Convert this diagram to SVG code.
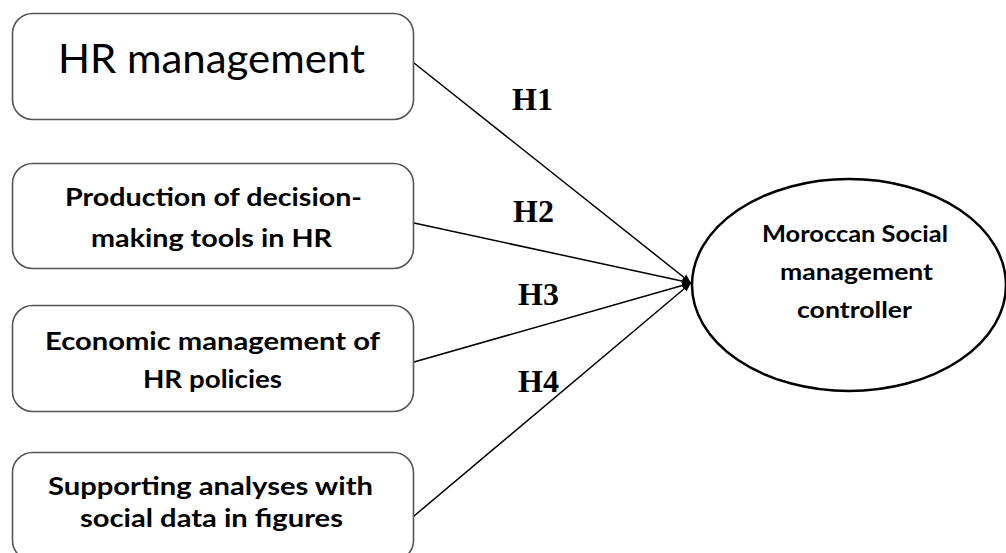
<svg xmlns="http://www.w3.org/2000/svg" width="1006" height="553" viewBox="0 0 1006 553">
<style>
.box{fill:#fff;stroke:#555;stroke-width:1.6}
.t{font-family:Lato,"Open Sans",sans-serif;font-weight:bold;font-size:24px;fill:#000}
.e{font-family:Lato,"Open Sans",sans-serif;font-weight:bold;font-size:22px;fill:#000}
.big{font-family:Lato,"Open Sans",sans-serif;font-size:40px;fill:#000}
.h{font-family:"Liberation Serif","Times New Roman",serif;font-weight:bold;font-size:32px;fill:#000}
.c{stroke:#000;stroke-width:1.5;fill:none;marker-end:url(#arr)}
</style>
<defs>
<marker id="arr" viewBox="0 0 10 10" refX="10" refY="5" markerWidth="9" markerHeight="9" orient="auto" markerUnits="userSpaceOnUse">
<path d="M0,1 L10,5 L0,9 z" fill="#000"/>
</marker>
</defs>
<rect width="1006" height="553" fill="#fff"/>
<g id="connectors">
<line class="c" x1="414" y1="63" x2="691" y2="283"/>
<line class="c" x1="414" y1="223" x2="691" y2="283"/>
<line class="c" x1="414" y1="362" x2="691" y2="283"/>
<line class="c" x1="414" y1="516" x2="691" y2="283"/>
<text class="h" x="512" y="110">H1</text>
<text class="h" x="513" y="222">H2</text>
<text class="h" x="518" y="305">H3</text>
<text class="h" x="518" y="392">H4</text>
</g>
<g id="n1">
<rect class="box" x="12.5" y="13.5" width="401" height="106" rx="20"/>
<text class="big" x="58" y="73" textLength="307" lengthAdjust="spacingAndGlyphs">HR management</text>
</g>
<g id="n2">
<rect class="box" x="12.5" y="163.5" width="401" height="105" rx="20"/>
<text class="t" x="65" y="206" textLength="297" lengthAdjust="spacingAndGlyphs">Production of decision-</text>
<text class="t" x="91" y="247" textLength="241" lengthAdjust="spacingAndGlyphs">making tools in HR</text>
</g>
<g id="n3">
<rect class="box" x="12.5" y="305.5" width="401" height="106" rx="20"/>
<text class="t" x="45" y="350" textLength="335" lengthAdjust="spacingAndGlyphs">Economic management of</text>
<text class="t" x="143" y="388" textLength="139" lengthAdjust="spacingAndGlyphs">HR policies</text>
</g>
<g id="n4">
<rect class="box" x="12.5" y="452.5" width="401" height="108" rx="20"/>
<text class="t" x="48" y="495" textLength="325" lengthAdjust="spacingAndGlyphs">Supporting analyses with</text>
<text class="t" x="80" y="527" textLength="263" lengthAdjust="spacingAndGlyphs">social data in figures</text>
</g>
<g id="n5">
<ellipse cx="849" cy="285" rx="157" ry="106" fill="#fff" stroke="#000" stroke-width="2.5"/>
<text class="e" x="762" y="242" textLength="186" lengthAdjust="spacingAndGlyphs">Moroccan Social</text>
<text class="e" x="780" y="280" textLength="153" lengthAdjust="spacingAndGlyphs">management</text>
<text class="e" x="797" y="318" textLength="115" lengthAdjust="spacingAndGlyphs">controller</text>
</g>
</svg>
